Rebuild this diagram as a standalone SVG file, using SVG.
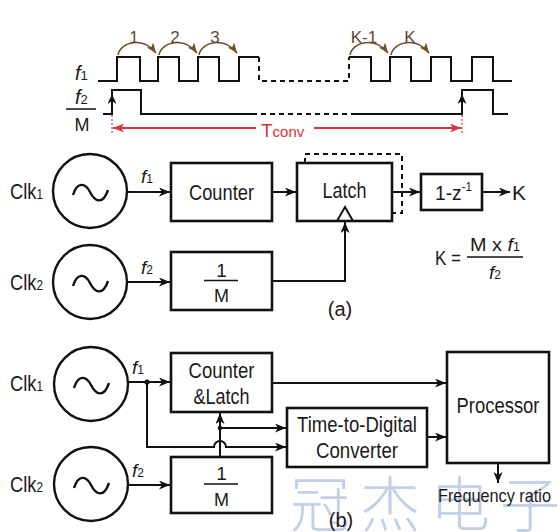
<svg xmlns="http://www.w3.org/2000/svg" width="560" height="532" viewBox="0 0 560 532">
<defs>
<marker id="ah" markerUnits="userSpaceOnUse" markerWidth="12" markerHeight="10" refX="11" refY="4.5" orient="auto"><path d="M0,0 L11,4.5 L0,9 L3,4.5 z" fill="#111"/></marker>
<marker id="ahb" markerUnits="userSpaceOnUse" markerWidth="12" markerHeight="10" refX="10" refY="4" orient="auto"><path d="M0,0 L10,4 L0,8 L2.5,4 z" fill="#6e4e22"/></marker>
<marker id="ahr" markerUnits="userSpaceOnUse" markerWidth="12" markerHeight="10" refX="11" refY="4.5" orient="auto-start-reverse"><path d="M0,0 L11,4.5 L0,9 L3,4.5 z" fill="#d8353a"/></marker>
<style>
text{font-family:"Liberation Sans",Arial,sans-serif;fill:#1a1a1a}
.box{fill:none;stroke:#111;stroke-width:2.6}
.osc{fill:none;stroke:#111;stroke-width:2.4}
.wire{fill:none;stroke:#111;stroke-width:2}
.wave{fill:none;stroke:#111;stroke-width:2}
.dash{fill:none;stroke:#111;stroke-width:2;stroke-dasharray:5,4}
.arc{fill:none;stroke:#6e4e22;stroke-width:1.6}
.lbl{font-size:22px}
.it{font-style:italic}
.num{font-size:17px;fill:#5c4a32}
</style>
</defs>
<rect width="560" height="532" fill="#ffffff"/>

<!-- watermark -->
<text x="290" y="527" style="font-family:'Noto Sans CJK SC',sans-serif;font-size:60px;font-weight:300;fill:#b4c6e0;letter-spacing:10px" opacity="0.8">冠杰电子</text>

<!-- timing diagram -->
<g id="timing">
<text class="it" x="75" y="80" style="font-size:20px">f<tspan font-size="13" font-style="normal">1</tspan></text>
<text class="it" x="75" y="104" style="font-size:20px">f<tspan font-size="13" font-style="normal">2</tspan></text>
<line x1="66" y1="109" x2="96" y2="109" stroke="#111" stroke-width="1.5"/>
<text x="82" y="131" text-anchor="middle" style="font-size:19px" textLength="15" lengthAdjust="spacingAndGlyphs">M</text>
<path class="wave" d="M98,81 H117 V57 H140 V81 H158 V57 H179 V81 H198 V57 H219 V81 H239 V57 H259"/>
<path class="dash" d="M259,57 V81 H349 V57"/>
<path class="wave" d="M349,57 H371 V81 H390 V57 H411 V81 H431 V57 H451 V81 H472 V57 H493 V81 H512"/>
<path class="wave" d="M103,114 H112 V90 H141 V114 H252"/>
<path class="dash" d="M252,114 H355"/>
<path class="wave" d="M355,114 H462 V90 H493 V114 H508"/>
<path d="M112,94 L116.5,104 L112,101 L107.5,104 z" fill="#111"/>
<path d="M462,94 L466.5,104 L462,101 L457.5,104 z" fill="#111"/>
<path class="arc" d="M118,55 C120,42 143,36 156,53" marker-end="url(#ahb)"/>
<path class="arc" d="M159,55 C161,42 184,36 197,53" marker-end="url(#ahb)"/>
<path class="arc" d="M199,55 C201,42 224,36 237,53" marker-end="url(#ahb)"/>
<path class="arc" d="M350,55 C352,42 375,36 388,53" marker-end="url(#ahb)"/>
<path class="arc" d="M391,55 C393,42 416,36 429,53" marker-end="url(#ahb)"/>
<text class="num" x="134" y="43" text-anchor="middle">1</text>
<text class="num" x="175" y="43" text-anchor="middle">2</text>
<text class="num" x="215" y="43" text-anchor="middle">3</text>
<text class="num" x="364" y="43" text-anchor="middle">K-1</text>
<text class="num" x="410" y="43" text-anchor="middle">K</text>
<line x1="112" y1="115" x2="112" y2="134" stroke="#d8353a" stroke-width="1.2" stroke-dasharray="2,2"/>
<line x1="462" y1="115" x2="462" y2="134" stroke="#d8353a" stroke-width="1.2" stroke-dasharray="2,2"/>
<line x1="113" y1="128" x2="256" y2="128" stroke="#d8353a" stroke-width="1.8" marker-start="url(#ahr)"/>
<line x1="314" y1="128" x2="461" y2="128" stroke="#d8353a" stroke-width="1.8" marker-end="url(#ahr)"/>
<text x="261" y="137" style="font-size:19px;fill:#d8353a">T<tspan font-size="15">conv</tspan></text>
</g>

<!-- part (a) -->
<g id="a-clk1">
<text class="lbl" x="10" y="199" textLength="33" lengthAdjust="spacingAndGlyphs">Clk<tspan font-size="14">1</tspan></text>
<circle class="osc" cx="90" cy="191" r="37"/>
<path class="osc" d="M73,195 C77,182 85,182 90,192 S103,205 108,190"/>
</g>
<g id="a-clk2">
<text class="lbl" x="10" y="290" textLength="33" lengthAdjust="spacingAndGlyphs">Clk<tspan font-size="14">2</tspan></text>
<circle class="osc" cx="90" cy="282" r="37"/>
<path class="osc" d="M73,286 C77,273 85,273 90,283 S103,296 108,281"/>
</g>
<g id="a-counter">
<rect class="box" x="171" y="163" width="101" height="58"/>
<text class="lbl" x="221.5" y="200" text-anchor="middle" textLength="65" lengthAdjust="spacingAndGlyphs">Counter</text>
</g>
<g id="a-div">
<rect class="box" x="171" y="252" width="101" height="58"/>
<text class="lbl" x="221.5" y="277" text-anchor="middle" style="font-size:19px">1</text>
<line x1="204" y1="280.5" x2="238" y2="280.5" stroke="#111" stroke-width="1.6"/>
<text class="lbl" x="221.5" y="302" text-anchor="middle" style="font-size:19px" textLength="15" lengthAdjust="spacingAndGlyphs">M</text>
</g>
<g id="a-latch">
<rect class="box" x="297" y="163" width="95" height="58"/>
<text class="lbl" x="344.5" y="198" text-anchor="middle" textLength="44" lengthAdjust="spacingAndGlyphs">Latch</text>
<path d="M337,221 L345,207 L353,221" fill="none" stroke="#111" stroke-width="2"/>
</g>
<g id="a-diff">
<rect class="box" x="421" y="174" width="61" height="36"/>
<text class="lbl" x="435" y="200" style="font-size:20px" textLength="37" lengthAdjust="spacingAndGlyphs">1-z<tspan font-size="12" dy="-9">-1</tspan></text>
</g>
<g id="a-out">
<text x="512" y="200" style="font-size:21px">K</text>
</g>
<g id="a-formula">
<text x="435" y="265" style="font-size:20px" textLength="26" lengthAdjust="spacingAndGlyphs">K =</text>
<line x1="467" y1="257" x2="523" y2="257" stroke="#111" stroke-width="1.5"/>
<text x="495" y="251" text-anchor="middle" style="font-size:19px" textLength="50" lengthAdjust="spacingAndGlyphs">M x <tspan font-style="italic">f</tspan><tspan font-size="12">1</tspan></text>
<text x="495" y="279" text-anchor="middle" style="font-size:19px"><tspan font-style="italic">f</tspan><tspan font-size="12">2</tspan></text>
</g>
<text x="340" y="316" text-anchor="middle" style="font-size:20px">(a)</text>

<g id="a-connectors">
<path class="wire" d="M127,192 H170" marker-end="url(#ah)"/>
<path class="wire" d="M272,192 H296" marker-end="url(#ah)"/>
<path class="wire" d="M392,192 H420" marker-end="url(#ah)"/>
<path class="wire" d="M482,192 H510" marker-end="url(#ah)"/>
<path class="wire" d="M127,282 H170" marker-end="url(#ah)"/>
<path class="wire" d="M272,281 H345 V222" marker-end="url(#ah)"/>
<path class="dash" d="M305,163 V154 H402 V213 H393"/>
<text class="it" x="141" y="183" style="font-size:19px">f<tspan font-size="12" font-style="normal">1</tspan></text>
<text class="it" x="141" y="274" style="font-size:19px">f<tspan font-size="12" font-style="normal">2</tspan></text>
</g>

<!-- part (b) -->
<g id="b-clk1">
<text class="lbl" x="10" y="391" textLength="33" lengthAdjust="spacingAndGlyphs">Clk<tspan font-size="14">1</tspan></text>
<circle class="osc" cx="91" cy="384" r="37"/>
<path class="osc" d="M74,388 C78,375 86,375 91,385 S104,398 109,383"/>
</g>
<g id="b-clk2">
<text class="lbl" x="10" y="492" textLength="33" lengthAdjust="spacingAndGlyphs">Clk<tspan font-size="14">2</tspan></text>
<circle class="osc" cx="91" cy="484" r="37"/>
<path class="osc" d="M74,488 C78,475 86,475 91,485 S104,498 109,483"/>
</g>
<g id="b-counterlatch">
<rect class="box" x="171" y="353" width="101" height="59"/>
<text class="lbl" x="221.5" y="378" text-anchor="middle" textLength="66" lengthAdjust="spacingAndGlyphs">Counter</text>
<text class="lbl" x="221.5" y="404" text-anchor="middle" textLength="56" lengthAdjust="spacingAndGlyphs">&amp;Latch</text>
</g>
<g id="b-div">
<rect class="box" x="171" y="457" width="101" height="56"/>
<text class="lbl" x="221.5" y="480" text-anchor="middle" style="font-size:19px">1</text>
<line x1="204" y1="484" x2="238" y2="484" stroke="#111" stroke-width="1.6"/>
<text class="lbl" x="221.5" y="506" text-anchor="middle" style="font-size:19px" textLength="15" lengthAdjust="spacingAndGlyphs">M</text>
</g>
<g id="b-tdc">
<rect class="box" x="287" y="408" width="140" height="59"/>
<text class="lbl" x="357" y="432" text-anchor="middle" textLength="120" lengthAdjust="spacingAndGlyphs">Time-to-Digital</text>
<text class="lbl" x="357" y="458" text-anchor="middle" textLength="82" lengthAdjust="spacingAndGlyphs">Converter</text>
</g>
<g id="b-processor">
<rect class="box" x="447" y="352" width="102" height="111"/>
<text class="lbl" x="498" y="413" text-anchor="middle" textLength="83" lengthAdjust="spacingAndGlyphs">Processor</text>
</g>
<text x="438" y="502" style="font-size:19px" textLength="113" lengthAdjust="spacingAndGlyphs">Frequency ratio</text>
<text x="341" y="527" text-anchor="middle" style="font-size:20px">(b)</text>

<g id="b-connectors">
<path class="wire" d="M128,382 H170" marker-end="url(#ah)"/>
<path class="wire" d="M147,382 V447 H214 A6,6 0 0 1 226,447 H286" marker-end="url(#ah)"/>
<path class="wire" d="M220,457 V413" marker-end="url(#ah)"/>
<path class="wire" d="M220,428 H286" marker-end="url(#ah)"/>
<path class="wire" d="M272,383 H446" marker-end="url(#ah)"/>
<path class="wire" d="M427,437 H446" marker-end="url(#ah)"/>
<path class="wire" d="M498,463 V483" marker-end="url(#ah)"/>
<path class="wire" d="M128,485 H170" marker-end="url(#ah)"/>
<circle cx="147" cy="382" r="2.6" fill="#111"/>
<circle cx="220" cy="428" r="2.2" fill="#111"/>
<text class="it" x="132" y="374" style="font-size:19px">f<tspan font-size="12" font-style="normal">1</tspan></text>
<text class="it" x="132" y="477" style="font-size:19px">f<tspan font-size="12" font-style="normal">2</tspan></text>
</g>
</svg>
